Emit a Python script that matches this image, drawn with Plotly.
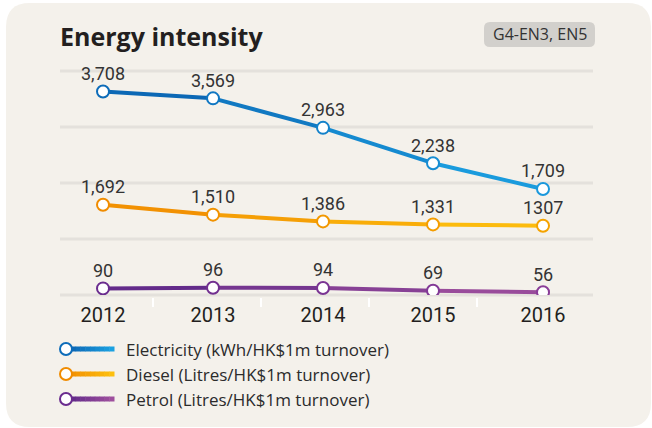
import plotly.graph_objects as go

# ---------------- data ----------------
years = [2012, 2013, 2014, 2015, 2016]
electricity = [3708, 3569, 2963, 2238, 1709]
diesel = [1692, 1510, 1386, 1331, 1307]
petrol = [90, 96, 94, 69, 56]
electricity_labels = ["3,708", "3,569", "2,963", "2,238", "1,709"]
diesel_labels = ["1,692", "1,510", "1,386", "1,331", "1307"]
petrol_labels = ["90", "96", "94", "69", "56"]
series_names = [
    "Electricity (kWh/HK$1m turnover)",
    "Diesel (Litres/HK$1m turnover)",
    "Petrol (Litres/HK$1m turnover)",
]
title_text = "Energy intensity"
tag_text = "G4-EN3, EN5"

# ---------------- geometry helpers ----------------
W, H = 652, 428
L, R, T, B = 60, 593, 71, 295


def px(x):
    return (x - L) / (R - L)


def py(y):
    return (B - y) / (B - T)


def hex2rgb(h):
    h = h.lstrip("#")
    return [int(h[i:i + 2], 16) for i in (0, 2, 4)]


def lerp(c0, c1, t):
    a, b = hex2rgb(c0), hex2rgb(c1)
    return "rgb(%d,%d,%d)" % tuple(round(a[i] + (b[i] - a[i]) * t) for i in range(3))


def rrect(x0, y0, x1, y1, r):
    pts = [
        ("M", [(x0 + r, y0)]), ("L", [(x1 - r, y0)]), ("Q", [(x1, y0), (x1, y0 + r)]),
        ("L", [(x1, y1 - r)]), ("Q", [(x1, y1), (x1 - r, y1)]),
        ("L", [(x0 + r, y1)]), ("Q", [(x0, y1), (x0, y1 - r)]),
        ("L", [(x0, y0 + r)]), ("Q", [(x0, y0), (x0 + r, y0)]),
    ]
    s = ""
    for cmd, ps in pts:
        s += cmd + " " + " ".join("%.5f,%.5f" % (px(a), py(b)) for a, b in ps) + " "
    return s + "Z"


series = [
    dict(vals=electricity, labels=electricity_labels, axis="y", ref="y",
         c0="#0a5fae", c1="#1ca4e4", mk0="#0d6cb9", mk1="#1a98dc"),
    dict(vals=diesel, labels=diesel_labels, axis="y2", ref="y2",
         c0="#f08a00", c1="#fec20f", mk0="#f08c00", mk1="#f5a300"),
    dict(vals=petrol, labels=petrol_labels, axis="y3", ref="y3",
         c0="#5a2687", c1="#a2519e", mk0="#6a2c8e", mk1="#8a3d98"),
]

fig = go.Figure()
shapes = []
annotations = []

# background panel
shapes.append(dict(type="path", xref="paper", yref="paper", layer="below",
                   path=rrect(6, 3, 651, 427, 24), fillcolor="#f4f1eb", line=dict(width=0)))
# gridlines
for gy in [71, 127, 183, 239, 295]:
    shapes.append(dict(type="line", xref="paper", yref="paper", layer="below",
                       x0=px(60), x1=px(593), y0=py(gy), y1=py(gy),
                       line=dict(color="#e4e1dc", width=3)))
# small white separators under the axis
for tx in [153, 261, 369, 477]:
    shapes.append(dict(type="line", xref="paper", yref="paper", layer="below",
                       x0=px(tx), x1=px(tx), y0=py(298), y1=py(307),
                       line=dict(color="#ffffff", width=2)))

n = len(years)
for s in series:
    v = s["vals"]
    for i in range(n - 1):
        fig.add_trace(go.Scatter(
            x=years[i:i + 2], y=v[i:i + 2], mode="lines", yaxis=s["axis"],
            line=dict(color=lerp(s["c0"], s["c1"], (i + 0.5) / (n - 1)), width=4),
            hoverinfo="skip", showlegend=False))
for s in series:
    v = s["vals"]
    fig.add_trace(go.Scatter(
        x=years, y=v, mode="markers", yaxis=s["axis"], showlegend=False,
        marker=dict(size=12, color="#ffffff",
                    line=dict(width=2, color=[lerp(s["mk0"], s["mk1"], i / (n - 1)) for i in range(n)]))))
    for xv, yv, lab in zip(years, v, s["labels"]):
        annotations.append(dict(x=xv, y=yv, xref="x", yref=s["ref"], text=lab,
                                showarrow=False, yshift=18,
                                font=dict(family="Roboto", size=18, color="#333333")))

# title
annotations.append(dict(x=px(58), y=py(36), xref="paper", yref="paper", text="<b>" + title_text + "</b>",
                        xanchor="left", yanchor="middle", showarrow=False,
                        font=dict(family="Open Sans", size=25, color="#231f20")))
# tag
shapes.append(dict(type="path", xref="paper", yref="paper",
                   path=rrect(484, 22, 595, 47, 6), fillcolor="#d2d0cc", line=dict(width=0)))
annotations.append(dict(x=px(539.5), y=py(34.5), xref="paper", yref="paper", text=tag_text,
                        xanchor="center", yanchor="middle", showarrow=False,
                        font=dict(family="Open Sans", size=16, color="#333333")))

# custom legend
for k, (s, name) in enumerate(zip(series, series_names)):
    ly = 349 + k * 25
    steps = 10
    x_start, x_end = 66, 114
    for j in range(steps):
        xa = x_start + (x_end - x_start) * j / steps
        xb = x_start + (x_end - x_start) * (j + 1) / steps
        shapes.append(dict(type="line", xref="paper", yref="paper",
                           x0=px(xa), x1=px(xb + 0.5), y0=py(ly), y1=py(ly),
                           line=dict(color=lerp(s["c0"], s["c1"], (j + 0.5) / steps), width=5)))
    shapes.append(dict(type="circle", xref="paper", yref="paper",
                       x0=px(60), x1=px(72), y0=py(ly - 6), y1=py(ly + 6),
                       fillcolor="#ffffff", line=dict(color=s["mk0"], width=2)))
    annotations.append(dict(x=px(124), y=py(ly), xref="paper", yref="paper", text=name,
                            xanchor="left", yanchor="middle", showarrow=False,
                            font=dict(family="Open Sans", size=17, color="#2b2b2b")))

fig.update_layout(
    width=W, height=H,
    margin=dict(l=L, r=W - R, t=T, b=H - B, pad=0),
    paper_bgcolor="#ffffff", plot_bgcolor="rgba(0,0,0,0)",
    showlegend=False,
    shapes=shapes, annotations=annotations,
    xaxis=dict(range=[2011.609, 2016.4545], tickvals=years, ticktext=[str(y) for y in years],
               showgrid=False, zeroline=False, showline=False, ticks="",
               tickfont=dict(family="Roboto", size=20, color="#231f20"), ticklabelstandoff=6),
    yaxis=dict(range=[-467, 4130], visible=False, showgrid=False, zeroline=False),
    yaxis2=dict(range=[36, 4146], visible=False, overlaying="y", showgrid=False, zeroline=False),
    yaxis3=dict(range=[32, 1997], visible=False, overlaying="y", showgrid=False, zeroline=False),
)

fig.write_html("out.html", config={"displayModeBar": False},
               post_script="document.body.style.margin='0';document.body.style.overflow='hidden';")
